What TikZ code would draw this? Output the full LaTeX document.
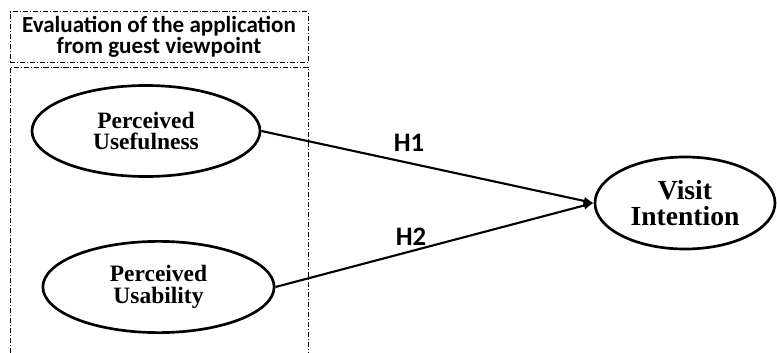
\documentclass[tikz,border=0pt]{standalone}
\usepackage{fontspec}
\setmainfont{Liberation Serif}
\newfontfamily\labelfont{Carlito}
\usetikzlibrary{shapes.geometric, arrows.meta, positioning}

\begin{document}
\begin{tikzpicture}[x=0.025cm, y=-0.025cm,
    construct/.style={draw, ellipse, line width=1.9pt, inner sep=0pt,
        align=center, font=\bfseries\fontsize{16.7}{15.2}\selectfont},
    grp/.style={draw, line width=0.6pt,
        dash pattern=on 3.6pt off 1.4pt on 0.7pt off 1.4pt},
    hyp/.style={-{Latex[length=7pt, width=6pt]}, line width=1.5pt},
    hlabel/.style={font=\labelfont\bfseries\fontsize{19}{19}\selectfont}]
    \useasboundingbox (0,0) rectangle (777,353);

    % group of the two predictors
    \node[grp, minimum width=7.45cm, minimum height=1.15cm, align=center,
        font=\labelfont\bfseries\fontsize{16.4}{13}\selectfont] (title) at (159,37)
        {Evaluation of the application\\from guest viewpoint};
    \draw[grp] (10,353) -- (10,67) -- (308,67) -- (308,353);

    % constructs
    \node[construct, minimum width=5.7cm, minimum height=2.275cm] (pu) at (146,131)
        {Perceived\\Usefulness};
    \node[construct, minimum width=5.78cm, minimum height=2.28cm] (pb) at (158.5,287)
        {Perceived\\Usability};
    \node[construct, minimum width=4.5cm, minimum height=2.3cm,
        font=\bfseries\fontsize{19.6}{18.4}\selectfont] (vi) at (685,203)
        {Visit\\Intention};

    % hypotheses
    \draw[hyp] (pu.east) -- (vi.west);
    \draw[hyp] (pb.east) -- (vi.west);
    \node[hlabel] (h1) at (409,143) {H1};
    \node[hlabel] (h2) at (411,237) {H2};
\end{tikzpicture}
\end{document}
